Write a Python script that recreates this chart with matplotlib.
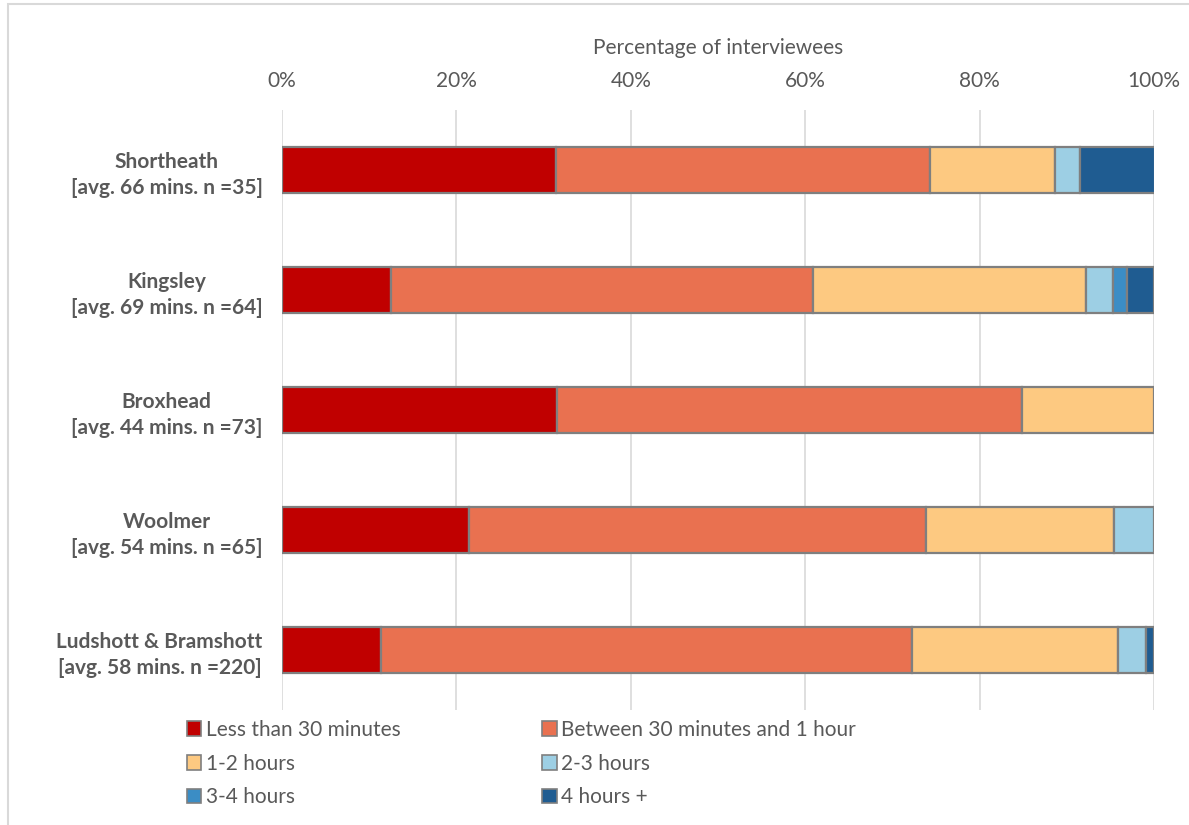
import matplotlib.pyplot as plt
import matplotlib.patches as mpatches
import numpy as np

plt.rcParams['font.family'] = ['Lato', 'DejaVu Sans']

sites = [
    "Shortheath\n[avg. 66 mins. n =35]",
    "Kingsley\n[avg. 69 mins. n =64]",
    "Broxhead\n[avg. 44 mins. n =73]",
    "Woolmer\n[avg. 54 mins. n =65]",
    "Ludshott & Bramshott\n[avg. 58 mins. n =220]",
]
bands = ["Less than 30 minutes", "Between 30 minutes and 1 hour", "1-2 hours",
         "2-3 hours", "3-4 hours", "4 hours +"]

# percentage of interviewees per site, one list per duration band
less_30 = [31.4, 12.5, 31.5, 21.5, 11.4]
mins_30_60 = [42.9, 48.4, 53.4, 52.3, 60.9]
hours_1_2 = [14.3, 31.3, 15.1, 21.6, 23.6]
hours_2_3 = [2.9, 3.1, 0.0, 4.6, 3.2]
hours_3_4 = [0.0, 1.6, 0.0, 0.0, 0.0]
hours_4_plus = [8.6, 3.1, 0.0, 0.0, 0.9]
series = [less_30, mins_30_60, hours_1_2, hours_2_3, hours_3_4, hours_4_plus]

colors = ["#C00000", "#E97150", "#FDC981", "#9DCFE4", "#3B8DC5", "#1F5C91"]
edge = "#7F7F7F"
txt = "#595959"
fs = 15

fig = plt.figure(figsize=(11.89, 8.25), dpi=100)
ax = fig.add_axes([282 / 1189, 1 - 710 / 825, 872 / 1189, 600 / 825])

# light frame around the chart area
fig.patches.append(mpatches.Rectangle((8 / 1189, -0.1), 1.2, 1 - 4 / 825 + 0.1,
                                      transform=fig.transFigure, fill=False,
                                      edgecolor="#D9D9D9", linewidth=1.5))

y = np.arange(len(sites))
left = np.zeros(len(sites))
handles = []
for vals, col, name in zip(series, colors, bands):
    vals = np.array(vals)
    mask = vals > 0
    ax.barh(y[mask], vals[mask], left=left[mask], height=0.39, color=col,
            edgecolor=edge, linewidth=1.6, zorder=3)
    handles.append(mpatches.Patch(facecolor=col, edgecolor=edge, linewidth=1.2, label=name))
    left += vals

ax.set_xlim(0, 100)
ax.set_ylim(len(sites) - 0.5, -0.5)
ax.set_xticks(np.arange(0, 101, 20))
ax.set_xticklabels([f"{v}%" for v in range(0, 101, 20)])
ax.xaxis.tick_top()
ax.xaxis.set_label_position("top")
ax.set_xlabel("Percentage of interviewees", fontsize=fs, color=txt, labelpad=12)
ax.tick_params(axis="x", length=0, labelsize=fs, labelcolor=txt, pad=14)
ax.set_yticks(y)
ax.set_yticklabels(sites, fontsize=fs, fontweight="bold", color=txt,
                   multialignment="center", linespacing=1.35)
ax.tick_params(axis="y", length=0, pad=14)
ax.grid(axis="x", color="#D9D9D9", linewidth=1.2, zorder=0)
for s in ax.spines.values():
    s.set_visible(False)

order = [0, 2, 4, 1, 3, 5]
fig.legend([handles[i] for i in order], [bands[i] for i in order], ncol=2,
           loc="upper left", bbox_to_anchor=(168 / 1189, 1 - 701 / 825),
           frameon=False, fontsize=fs, labelcolor=txt, handlelength=0.7,
           handleheight=0.7, handletextpad=0.2, columnspacing=6.8,
           labelspacing=0.66)

fig.savefig("out.png", dpi=100)
